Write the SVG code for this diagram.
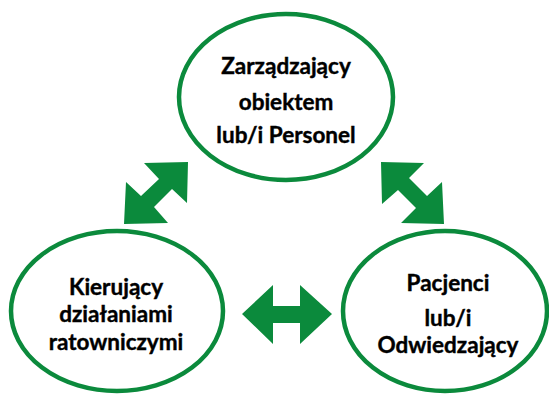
<svg xmlns="http://www.w3.org/2000/svg" width="549" height="395" viewBox="0 0 549 395">
<style>
.node ellipse{fill:#fff;stroke:#0b8a3c;stroke-width:4.5}
.node text{font-family:Lato,"Open Sans","Liberation Sans",sans-serif;font-weight:bold;font-size:22.5px;fill:#000;text-anchor:middle;stroke:#000;stroke-width:0.4}
.arrow{fill:#0b8a3c}
</style>
<rect width="549" height="395" fill="#fff"/>
<g id="connectors">
<polygon class="arrow" points="188,162 187,203 172,189 154,207 168,223 124,224 126,182 141,196 159,179 144,163"/>
<polygon class="arrow" points="381,162 424,163 409,178 427,196 442,182 444,224 401,223 416,208 398,190 382,204"/>
<polygon class="arrow" points="242,314 273,285 273,306 300,306 300,285 332,314 300,344 300,323 273,323 273,344"/>
</g>
<g id="node-top" class="node">
<ellipse cx="286" cy="97" rx="107" ry="83"/>
<text x="286" y="74">Zarządzający</text>
<text x="286" y="110">obiektem</text>
<text x="286" y="143">lub/i Personel</text>
</g>
<g id="node-left" class="node">
<ellipse cx="117" cy="311" rx="106" ry="80"/>
<text x="116" y="295">Kierujący</text>
<text x="116" y="322">działaniami</text>
<text x="116" y="350">ratowniczymi</text>
</g>
<g id="node-right" class="node">
<ellipse cx="445" cy="311" rx="102" ry="80"/>
<text x="448" y="291">Pacjenci</text>
<text x="448" y="326">lub/i</text>
<text x="448" y="353">Odwiedzający</text>
</g>
</svg>
